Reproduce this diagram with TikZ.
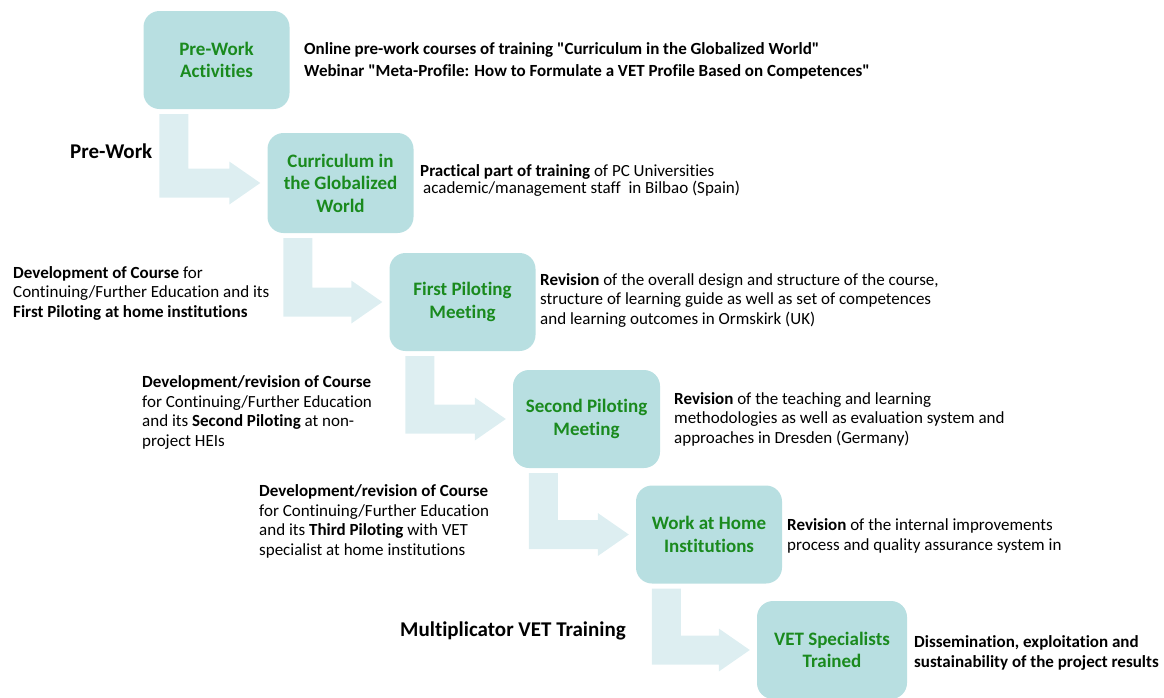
\documentclass[tikz,border=0pt]{standalone}
\usepackage{fontspec}
\setmainfont{Carlito}[Ligatures={TeXOff,NoCommon}]
\usetikzlibrary{calc}

\definecolor{boxfill}{RGB}{184,223,225}
\definecolor{flowfill}{RGB}{221,238,241}
\definecolor{labelgreen}{RGB}{26,138,30}

\tikzset{
  stagebox/.style={fill=boxfill, rounded corners=16pt, minimum width=146pt,
    minimum height=98pt, inner sep=0pt, align=center, text=labelgreen,
    font=\fontsize{19}{22.5}\selectfont\bfseries},
  % descriptions are placed by the baseline of their last line
  note/.style={anchor=base west, inner sep=0pt, align=left,
    font=\fontsize{17}{19.5}\selectfont},
  phase/.style={anchor=base west, inner sep=0pt,
    font=\fontsize{21}{24}\selectfont\bfseries},
  flow/.style={fill=flowfill}
}

% bent block arrow from below one stage to the left side of the next
\newcommand\stagearrow[2]{%
  \fill[flow] let \p1=(#1.south west), \p2=(#2.west) in
    (\x1+16pt,\y1-5pt) -- (\x1+45pt,\y1-5pt) -- (\x1+45pt,\y2+14.5pt)
    -- (\x2-38pt,\y2+14.5pt) -- (\x2-38pt,\y2+21.5pt) -- (\x2-7pt,\y2)
    -- (\x2-38pt,\y2-21.5pt) -- (\x2-38pt,\y2-14.5pt)
    -- (\x1+16pt,\y2-14.5pt) -- cycle;}

\begin{document}
\begin{tikzpicture}[x=1pt,y=-1pt]
\path[clip] (0,0) rectangle (1164,697);

% stages
\node[stagebox] (s1) at (216.5,60) {Pre-Work\\Activities};
\node[stagebox, minimum height=100pt] (s2) at (340.5,183) {Curriculum in\\the Globalized\\World};
\node[stagebox] (s3) at (462.5,302) {First Piloting\\Meeting};
\node[stagebox, minimum width=147pt] (s4) at (586.5,419) {Second Piloting\\Meeting};
\node[stagebox] (s5) at (709,534.5) {Work at Home\\Institutions};
\node[stagebox, minimum width=150pt] (s6) at (832,650) {VET Specialists\\Trained};

% connecting arrows
\stagearrow{s1}{s2}
\stagearrow{s2}{s3}
\stagearrow{s3}{s4}
\stagearrow{s4}{s5}
\stagearrow{s5}{s6}

% phase labels
\node[phase] (pw) at (70,158) {Pre-Work};
\node[phase] (mv) at (400,636) {Multiplicator VET Training};

% descriptions
\node[note, font=\fontsize{17}{22}\selectfont\bfseries] (d1) at (304,76)
  {Online pre-work courses of training "Curriculum in the Globalized World"\\
   Webinar "Meta-Profile: How to Formulate a VET Profile Based on Competences"};
\node[note, font=\fontsize{17}{16.5}\selectfont] (d2) at (420,193)
  {\textbf{Practical part of training} of PC Universities\\
   \hspace*{3pt}academic/management staff\ \ in Bilbao (Spain)};
\node[note] (d3) at (13,317)
  {\textbf{Development of Course} for\\
   Continuing/Further Education and its\\
   \textbf{First Piloting at home institutions}};
\node[note] (d4) at (540,324)
  {\textbf{Revision} of the overall design and structure of the course,\\
   structure of learning guide as well as set of competences\\
   and learning outcomes in Ormskirk (UK)};
\node[note] (d5) at (142,446)
  {\textbf{Development/revision of Course}\\
   for Continuing/Further Education\\
   and its \textbf{Second Piloting} at non-\\
   project HEIs};
\node[note] (d6) at (674,443)
  {\textbf{Revision} of the teaching and learning\\
   methodologies as well as evaluation system and\\
   approaches in Dresden (Germany)};
\node[note] (d7) at (259,555)
  {\textbf{Development/revision of Course}\\
   for Continuing/Further Education\\
   and its \textbf{Third Piloting} with VET\\
   specialist at home institutions};
\node[note] (d8) at (787,550)
  {\textbf{Revision} of the internal improvements\\
   process and quality assurance system in};
\node[note, font=\fontsize{17}{19.5}\selectfont\bfseries] (d9) at (914,667)
  {Dissemination, exploitation and\\
   sustainability of the project results};
\end{tikzpicture}
\end{document}
